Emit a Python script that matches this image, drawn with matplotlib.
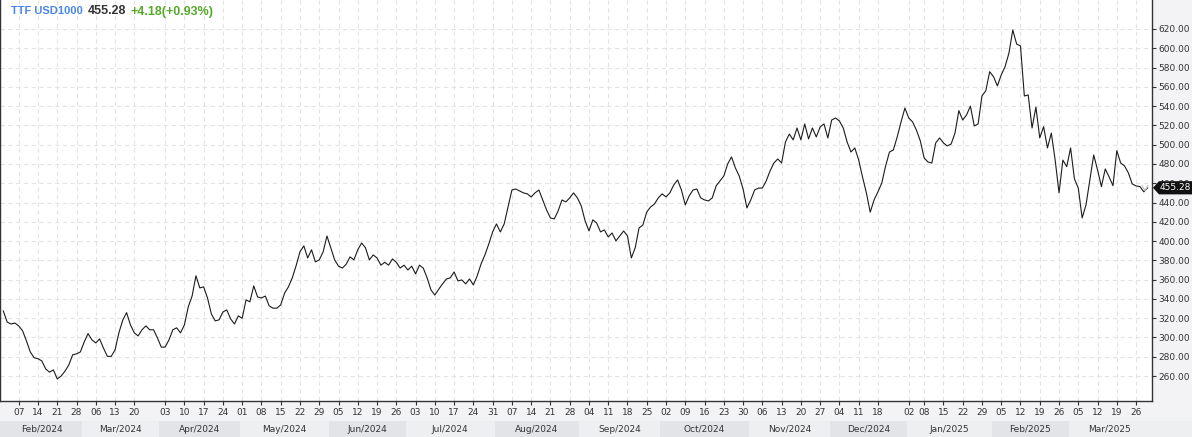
import numpy as np
import pandas as pd
import matplotlib
matplotlib.use("Agg")
import matplotlib.pyplot as plt
from matplotlib.patches import Rectangle, Polygon
from matplotlib.lines import Line2D
import matplotlib.transforms as mtransforms

# ---------------- data ----------------
holidays = ["2024-03-29", "2024-04-01", "2024-12-25", "2024-12-26", "2025-01-01"]

feb24 = [327.5, 316, 314, 315, 312, 307, 296.5, 285, 279, 278, 275.7, 267.4, 264, 266.4, 257, 260, 265, 271.5, 282, 283, 285]
mar24 = [295.4, 304, 297.5, 294.4, 298.5, 289, 280.4, 280.4, 287, 304.8, 318, 325.8, 313, 304.8, 301.6, 308, 312, 308, 308, 299.6]
apr24 = [290, 290, 297.5, 308, 310, 304.8, 313, 331.7, 343, 364, 351.4, 352.5, 341, 324.4, 317.2, 318.3, 326.5, 328.6, 319.3, 314, 322.4]
may24 = [320, 339, 337, 353.5, 342, 341, 343, 332.8, 330.4, 330.4, 333.8, 346, 352.5, 361.8, 374.5, 389, 395, 382.5, 391, 378.4, 380.5, 388.7, 405.3]
jun24 = [393, 380.5, 374, 372, 376, 383.6, 380.5, 391, 398, 393, 380.5, 385.6, 382.5, 375, 378, 375, 381.5, 378, 372, 375]
jul24 = [370, 374, 366, 375, 372, 361.8, 349.3, 344, 350, 355.6, 360.7, 361.8, 368, 358.7, 359.7, 355.6, 360.7, 354.5, 364, 376.3, 385.6, 397, 409.5]
aug24 = [417.8, 409.5, 417.8, 435.4, 453, 454, 452, 450, 449, 445.8, 450, 453, 442.7, 432.3, 424, 423, 431.3, 442.7, 440.6, 444.8, 450, 444.8]
sep24 = [436.5, 421, 410.5, 422, 418.8, 409.5, 411.6, 404.3, 408.4, 400.2, 405.3, 410.5, 405.3, 382.5, 393, 413.6, 416.7, 430.2, 435.4, 438.5, 444.8]
oct24 = [449, 445.8, 450, 458.2, 463.4, 453, 437.5, 446.8, 453, 454, 444.8, 442.7, 441.6, 444.8, 457.2, 462.4, 467.5, 480, 487.3, 475.9, 467.5, 454, 434.4]
nov24 = [442.7, 453, 455, 455, 462.4, 472.7, 481, 485.2, 481, 502.8, 511, 505, 517.3, 505, 521.5, 506, 517.3, 508, 518.4, 521.5, 507]
dec24 = [525.6, 527.7, 524.6, 517.3, 502.8, 492.4, 496.6, 484.2, 466.5, 450, 430, 442.7, 451, 460.3, 478, 492.4, 494.5, 508, 523.6, 538]
jan25 = [527.7, 523.6, 515, 503.9, 486.2, 482, 481, 501.8, 507, 501.8, 498.7, 500.7, 512, 535.3, 525.6, 530.8, 540, 519.4, 521.5, 550.6, 556, 575.7]
feb25 = [570.5, 561, 572.3, 581, 595, 619, 604.4, 602.4, 550.5, 551.6, 517.3, 539, 507, 518.7, 496.6, 512, 484, 450, 484, 477.2]
mar25 = [496.6, 464.5, 455, 424, 437.5, 463.4, 489.3, 473.8, 456.5, 474.8, 466.5, 457.5, 493.8, 481, 478, 470.7, 459.3, 457.2, 456.5, 451.1, 455.28]

week_ticks = ["2024-02-07", "2024-02-14", "2024-02-21", "2024-02-28",
              "2024-03-06", "2024-03-13", "2024-03-20",
              "2024-04-03", "2024-04-10", "2024-04-17", "2024-04-24",
              "2024-05-01", "2024-05-08", "2024-05-15", "2024-05-22", "2024-05-29",
              "2024-06-05", "2024-06-12", "2024-06-19", "2024-06-26",
              "2024-07-03", "2024-07-10", "2024-07-17", "2024-07-24", "2024-07-31",
              "2024-08-07", "2024-08-14", "2024-08-21", "2024-08-28",
              "2024-09-04", "2024-09-11", "2024-09-18", "2024-09-25",
              "2024-10-02", "2024-10-09", "2024-10-16", "2024-10-23", "2024-10-30",
              "2024-11-06", "2024-11-13", "2024-11-20", "2024-11-27",
              "2024-12-04", "2024-12-11", "2024-12-18",
              "2025-01-02", "2025-01-08", "2025-01-15", "2025-01-22", "2025-01-29",
              "2025-02-05", "2025-02-12", "2025-02-19", "2025-02-26",
              "2025-03-05", "2025-03-12", "2025-03-19", "2025-03-26"]

y_ticks = list(range(260, 621, 20))
title_name = "TTF USD1000"
last_price = 455.28
change = 4.18
change_pct = 0.93

# ---------------- build series ----------------
dates = pd.bdate_range("2024-02-01", "2025-03-31")
dates = dates[~dates.isin(pd.to_datetime(holidays))]
values = np.array(feb24 + mar24 + apr24 + may24 + jun24 + jul24 + aug24 + sep24
                  + oct24 + nov24 + dec24 + jan25 + feb25 + mar25, dtype=float)
n = min(len(dates), len(values))
dates = dates[:n]
values = values[:n]
x = np.arange(n)
pos = {d: i for i, d in enumerate(dates)}

# ---------------- figure ----------------
W, H = 1192, 437
fig = plt.figure(figsize=(W / 100, H / 100), dpi=100)
fig.patch.set_facecolor("#f3f3f5")

ax = fig.add_axes([0, 36 / H, 1152 / W, 401 / H])
ax.set_facecolor("white")

ax.plot(x, values, color="#1c1c1c", lw=0.8, zorder=3)

px_per_day = 3.853
x0_px = 3.3
ax.set_xlim((0 - x0_px) / px_per_day, (1152 - x0_px) / px_per_day)
py = 0.964  # px per unit
ax.set_ylim(620 - (401 - 29) / py, 620 + 29 / py)

for s in ["left", "right", "bottom"]:
    ax.spines[s].set_color("#333333")
    ax.spines[s].set_linewidth(1.0)
ax.spines["top"].set_visible(False)

ax.yaxis.tick_right()
ax.set_yticks(y_ticks)
ax.set_yticklabels([f"{v:.2f}" for v in y_ticks])
ax.tick_params(axis="y", length=3, pad=1.5, labelsize=6.5, colors="#333333",
               direction="out", width=0.8)

tick_pos = [pos[pd.Timestamp(d)] for d in week_ticks]
ax.set_xticks(tick_pos)
ax.set_xticklabels([d[-2:] for d in week_ticks])
ax.tick_params(axis="x", length=3, pad=2, labelsize=6.5, colors="#333333",
               direction="out", width=0.8)

ax.grid(True, color="#e4e4e4", lw=0.8, ls=(0, (4, 3)), zorder=0)

# month bands
trans_band = mtransforms.blended_transform_factory(ax.transData, fig.transFigure)
months = pd.Series(np.arange(n), index=dates).groupby(dates.to_period("M"))
xl = ax.get_xlim()
xr_fig = (W - x0_px) / px_per_day
for k, (per, idx) in enumerate(months):
    first, last = idx.values[0], idx.values[-1]
    a = first - 0.5 if k > 0 else xl[0] - 1
    b = last + 0.5 if k < len(months) - 1 else xr_fig + 1
    col = "#e3e4e7" if k % 2 == 0 else "#eeeff1"
    fig.add_artist(Rectangle((a, 0), b - a, 16 / H, transform=trans_band,
                             facecolor=col, edgecolor="none", zorder=1))
    cx = (first - 0.5 + last + 0.5) / 2
    fig.text(cx, 8 / H, per.strftime("%b/%Y"), transform=trans_band,
             ha="center", va="center", fontsize=6.5, color="#333333", zorder=2)

# last price tag
trans_tag = mtransforms.blended_transform_factory(fig.transFigure, ax.transData)
hh = 6.6 / py
tip = 1153 / W
bl = 1159 / W
tag = Polygon([(tip, last_price), (bl, last_price + hh), (1.0, last_price + hh),
               (1.0, last_price - hh), (bl, last_price - hh)], closed=True,
              transform=trans_tag, facecolor="#111111", edgecolor="none", zorder=5)
fig.add_artist(tag)
fig.text(1175.5 / W, last_price, f"{last_price:.2f}", transform=trans_tag,
         ha="center", va="center", fontsize=6.5, color="white", zorder=6)

# small chevron
chev = Line2D([1142 / W, 1145 / W, 1148 / W],
              [last_price + 2 / py, last_price - 3 / py, last_price + 2 / py],
              transform=trans_tag, color="#bdbdbd", lw=0.8)
fig.add_artist(chev)

# title
fig.canvas.draw()
renderer = fig.canvas.get_renderer()
parts = [(title_name, "#4a86e8", 8), (f"{last_price:.2f}", "#333333", 9),
         (f"+{change:.2f}(+{change_pct:.2f}%)", "#58a82b", 9)]
cur = 11
for txt, col, fs in parts:
    t = fig.text(cur / W, 1 - 11.5 / H, txt, ha="left", va="center", fontsize=fs,
                 fontweight="bold", color=col, family="Liberation Sans")
    bb = t.get_window_extent(renderer=renderer)
    cur = bb.x1 + 4.5

fig.savefig("out.png", dpi=100, facecolor=fig.get_facecolor())
